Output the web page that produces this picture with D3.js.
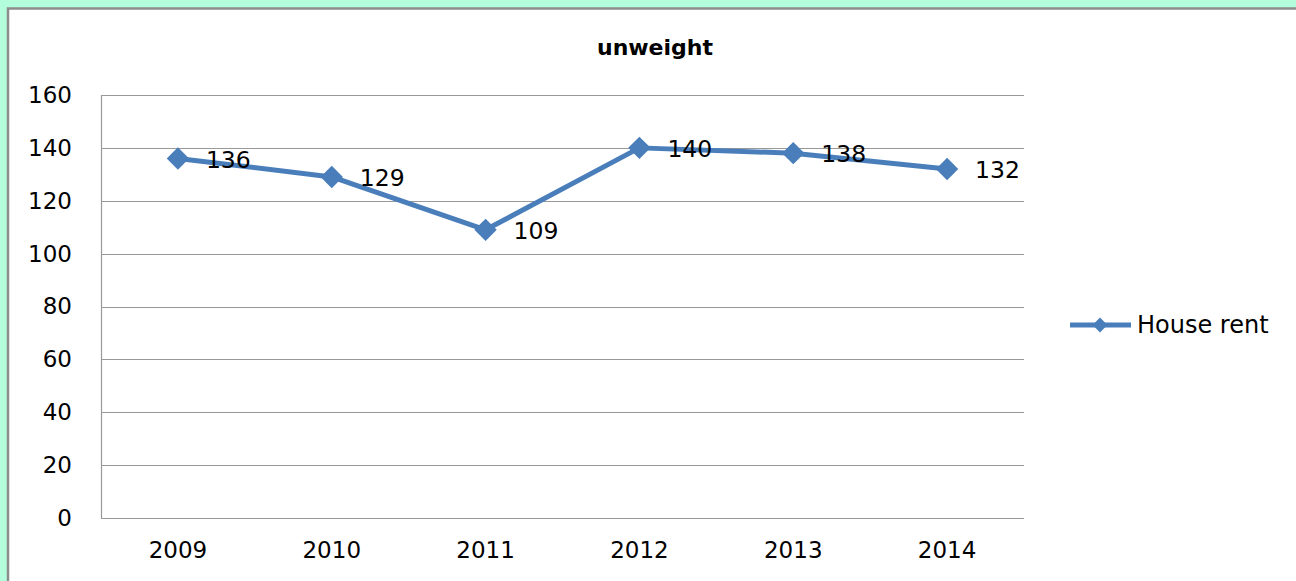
<!DOCTYPE html>
<html>
<head>
<meta charset="utf-8">
<script src="https://cdn.jsdelivr.net/npm/d3@7"></script>
<style>
  html, body { margin: 0; padding: 0; background: #b3fddc; }
  #chart { position: absolute; left: 0; top: 0; }
  text { font-family: "DejaVu Sans", sans-serif; fill: #000; }
</style>
</head>
<body>
<div id="chart"></div>
<script>
// chart data
var years = ["2009", "2010", "2011", "2012", "2013", "2014"];
var houseRent = [136, 129, 109, 140, 138, 132];
var yTicks = [0, 20, 40, 60, 80, 100, 120, 140, 160];
var seriesName = "House rent";
var chartTitle = "unweight";

var W = 1296, H = 581;
var margin = { top: 95, left: 101 },
    width = 923,
    height = 423;

var blue = "#4a7ebb";

var svg = d3.select("#chart").append("svg")
    .attr("width", W)
    .attr("height", H);

// white chart box with grey border
svg.append("rect")
    .attr("x", 8).attr("y", 8.5)
    .attr("width", W + 20).attr("height", H + 20)
    .attr("fill", "#fff")
    .attr("stroke", "#8c8c8c")
    .attr("stroke-width", 2.5);

// title
svg.append("text")
    .attr("x", 655).attr("y", 47)
    .attr("dy", "0.35em")
    .attr("text-anchor", "middle")
    .style("font-weight", "bold")
    .style("font-size", "22px")
    .text(chartTitle);

var g = svg.append("g")
    .attr("transform", "translate(" + margin.left + "," + margin.top + ")");

// scales
var x = d3.scaleBand().domain(years).range([0, width]);
var y = d3.scaleLinear().domain([0, 160]).range([height, 0]);

// gridlines
g.selectAll(".grid")
    .data(yTicks)
    .enter().append("line")
    .attr("x1", 0).attr("x2", width)
    .attr("y1", function (d) { return Math.round(y(d)) + 0.5; })
    .attr("y2", function (d) { return Math.round(y(d)) + 0.5; })
    .attr("stroke", "#999")
    .attr("stroke-width", 1.2);

// left axis line
g.append("line")
    .attr("x1", 0.5).attr("x2", 0.5)
    .attr("y1", 0).attr("y2", height)
    .attr("stroke", "#999")
    .attr("stroke-width", 1.2);

// y axis labels
var yAxis = g.append("g")
    .call(d3.axisLeft(y).tickValues(yTicks).tickSize(0).tickPadding(29));
yAxis.select(".domain").remove();
yAxis.selectAll("text")
    .style("font-size", "23px")
    .style("font-family", "DejaVu Sans, sans-serif")
    .attr("fill", "#111");

// x axis labels
var xAxis = g.append("g")
    .attr("transform", "translate(0," + height + ")")
    .call(d3.axisBottom(x).tickSize(0).tickPadding(24));
xAxis.select(".domain").remove();
xAxis.selectAll("text")
    .style("font-size", "23px")
    .style("font-family", "DejaVu Sans, sans-serif")
    .attr("fill", "#111");

var cx = function (i) { return x(years[i]) + x.bandwidth() / 2; };

// the line
var line = d3.line()
    .x(function (d, i) { return cx(i); })
    .y(function (d) { return y(d); });

g.append("path")
    .datum(houseRent)
    .attr("d", line)
    .attr("fill", "none")
    .attr("stroke", blue)
    .attr("stroke-width", 5)
    .attr("stroke-linejoin", "round");

// diamond markers
var diamond = d3.symbol().type(d3.symbolSquare).size(250);
g.selectAll(".marker")
    .data(houseRent)
    .enter().append("path")
    .attr("d", diamond)
    .attr("transform", function (d, i) {
        return "translate(" + cx(i) + "," + y(d) + ") rotate(45)";
    })
    .attr("fill", blue);

// value labels
g.selectAll(".lbl")
    .data(houseRent)
    .enter().append("text")
    .attr("x", function (d, i) { return cx(i) + 28; })
    .attr("y", function (d) { return y(d) + 1; })
    .attr("dy", "0.35em")
    .style("font-size", "23.5px")
    .attr("fill", "#111")
    .text(function (d) { return d; });

// legend
var lg = svg.append("g").attr("transform", "translate(1070,325)");
lg.append("line")
    .attr("x1", 0).attr("x2", 61)
    .attr("y1", 0).attr("y2", 0)
    .attr("stroke", blue)
    .attr("stroke-width", 5);
lg.append("path")
    .attr("d", d3.symbol().type(d3.symbolSquare).size(110))
    .attr("transform", "translate(30,0) rotate(45)")
    .attr("fill", blue);
lg.append("text")
    .attr("x", 67).attr("y", 0)
    .attr("dy", "0.35em")
    .style("font-size", "24px")
    .attr("fill", "#111")
    .text(seriesName);
</script>
</body>
</html>
